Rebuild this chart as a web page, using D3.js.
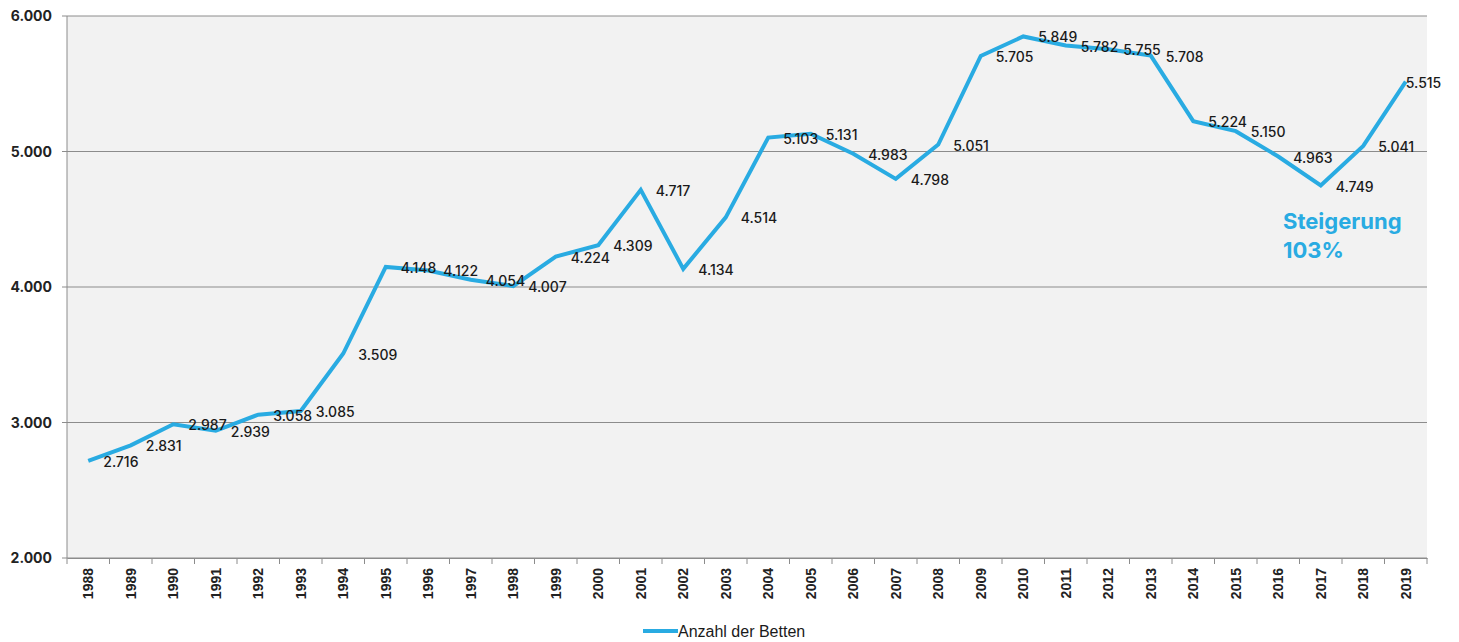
<!DOCTYPE html>
<html><head><meta charset="utf-8">
<script src="https://cdn.jsdelivr.net/npm/d3@7"></script>
<style>body{margin:0;background:#fff;font-family:"Liberation Sans",Arial,sans-serif;}</style>
</head><body>
<svg id="c" width="1459" height="642"></svg>
<script>
const years = ["1988","1989","1990","1991","1992","1993","1994","1995","1996","1997","1998","1999","2000","2001","2002","2003","2004","2005","2006","2007","2008","2009","2010","2011","2012","2013","2014","2015","2016","2017","2018","2019"];
const beds = [2716,2831,2987,2939,3058,3085,3509,4148,4122,4054,4007,4224,4309,4717,4134,4514,5103,5131,4983,4798,5051,5705,5849,5782,5755,5708,5224,5150,4963,4749,5041,5515];
const yTicks = [2000,3000,4000,5000,6000];
const seriesName = "Anzahl der Betten";
const noteLines = ["Steigerung","103%"];

const svg = d3.select("#c");
const L=67, R=1427, T=16, B=558;
const x = d3.scaleBand().domain(years).range([L,R]);
const y = d3.scaleLinear().domain([2000,6000]).range([B,T]);
const blue = "#29abe2";
const fmt = v => d3.format(",")(v).replace(/,/g,".");

svg.append("rect").attr("x",L).attr("y",T).attr("width",R-L).attr("height",B-T).attr("fill","#f2f2f2");

// grid
svg.append("g").selectAll("line").data(yTicks).join("line")
  .attr("x1",L-5).attr("x2",R).attr("y1",d=>y(d)).attr("y2",d=>y(d))
  .attr("stroke","#8c8c8c").attr("stroke-width",1);
svg.append("g").selectAll("text").data(yTicks).join("text")
  .attr("x",52).attr("y",d=>y(d)+5).attr("text-anchor","end")
  .attr("font-size",14).attr("font-weight","bold").attr("fill","#222")
  .attr("font-family","Inter, 'Liberation Sans', sans-serif").text(fmt);
// left axis
svg.append("line").attr("x1",L).attr("x2",L).attr("y1",T).attr("y2",B).attr("stroke","#8c8c8c");

// x axis
const xa = svg.append("g").attr("transform",`translate(0,${B})`)
  .call(d3.axisBottom(x).tickSize(0).tickFormat(""));
xa.select(".domain").attr("stroke","#8c8c8c");
const bounds = years.map(d=>x(d)).concat([R]);
svg.append("g").selectAll("line").data(bounds).join("line")
  .attr("x1",d=>d).attr("x2",d=>d).attr("y1",B).attr("y2",B+6).attr("stroke","#8c8c8c");
svg.append("g").selectAll("text").data(years).join("text")
  .attr("transform",d=>`translate(${x(d)+x.bandwidth()/2+5},${B+10}) rotate(-90)`)
  .attr("text-anchor","end").attr("font-size",14).attr("font-weight","bold").attr("fill","#222")
  .text(d=>d);

// line
const pts = years.map((d,i)=>({yr:d,v:beds[i],last:i===years.length-1}));
svg.append("path").datum(pts)
  .attr("d",d3.line().x(d=>x(d.yr)+x.bandwidth()/2).y(d=>y(d.v)))
  .attr("fill","none").attr("stroke",blue).attr("stroke-width",4).attr("stroke-linejoin","miter");

// labels
svg.append("g").selectAll("text").data(pts).join("text")
  .attr("x",d=>x(d.yr)+x.bandwidth()/2+(d.last?0:15)).attr("y",d=>y(d.v)+6)
  .attr("font-size",14).attr("fill","#1a1a1a")
  .attr("font-family","Inter, 'Liberation Sans', sans-serif").attr("font-weight",500)
  .text(d=>fmt(d.v));

// note
svg.append("text").attr("x",1283).attr("font-size",22).attr("font-weight","bold").attr("fill",blue)
  .attr("font-family","Inter, 'Liberation Sans', sans-serif")
  .selectAll("tspan").data(noteLines).join("tspan").attr("x",1283).attr("y",(d,i)=>229+i*29).text(d=>d);

// legend
svg.append("line").attr("x1",643).attr("x2",678).attr("y1",631).attr("y2",631).attr("stroke",blue).attr("stroke-width",4);
svg.append("text").attr("x",678).attr("y",637).attr("font-size",16).attr("fill","#1a1a1a").text(seriesName);
</script>
</body></html>
